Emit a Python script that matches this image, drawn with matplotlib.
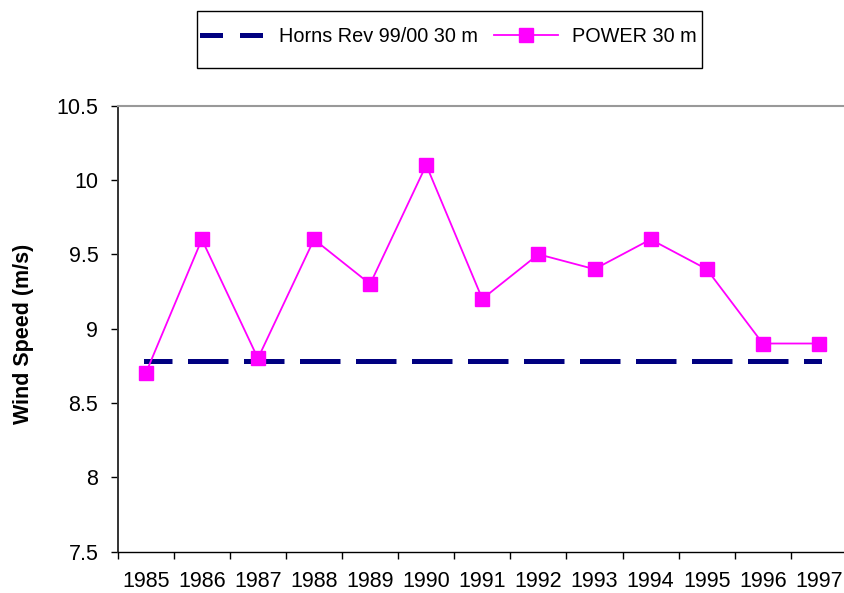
import numpy as np
import matplotlib
matplotlib.use("Agg")
import matplotlib.pyplot as plt
from matplotlib.lines import Line2D
from matplotlib.patches import Rectangle

plt.rcParams['font.family'] = ['Liberation Sans', 'DejaVu Sans']

# data
years = ["1985", "1986", "1987", "1988", "1989", "1990", "1991",
         "1992", "1993", "1994", "1995", "1996", "1997"]
power_30m = [8.7, 9.6, 8.8, 9.6, 9.3, 10.1, 9.2, 9.5, 9.4, 9.6, 9.4, 8.9, 8.9]
horns_rev_30m = 8.78

x = np.arange(len(years))
fs = 15.5
fs_leg = 14.3
W, H = 845, 593

fig = plt.figure(figsize=(8.45, 5.93), dpi=100)
ax = fig.add_axes([0.1393, 0.0696, 0.863, 0.7524])

# Horns Rev reference level
lw_dash = 3.6
ax.plot([x[0], x[-1]], [horns_rev_30m] * 2, color='#000080', lw=lw_dash,
        linestyle=(2.4, (7.1, 4.1)), dash_capstyle='projecting')

# POWER series
ax.plot(x, power_30m, color='#FF00FF', lw=1.3, marker='s', markersize=9.5,
        markerfacecolor='#FF00FF', markeredgecolor='#FF00FF')

ax.set_xlim(-0.5, len(years) - 0.5)
ax.set_ylim(7.5, 10.5)
ax.set_yticks([7.5, 8, 8.5, 9, 9.5, 10, 10.5])
ax.set_yticklabels(["7.5", "8", "8.5", "9", "9.5", "10", "10.5"])
ax.set_xticks(x)
ax.set_xticklabels(years)
ax.set_xticks(np.arange(-0.5, len(years)), minor=True)
ax.tick_params(axis='x', which='major', length=0, pad=14, labelsize=fs)
ax.tick_params(axis='x', which='minor', length=5, width=1, direction='out')
ax.tick_params(axis='y', length=5, width=1, direction='out', pad=9, labelsize=fs)

ax.spines['right'].set_visible(False)
ax.spines['top'].set_color('#999999')
ax.spines['top'].set_linewidth(1.5)
ax.spines['left'].set_color('#333333')
ax.spines['left'].set_linewidth(1.4)
ax.spines['bottom'].set_color('black')
ax.spines['bottom'].set_linewidth(1.0)

fig.text(24 / W, 1 - 333.4 / H, "Wind Speed (m/s)", rotation=90,
         fontsize=fs, fontweight='bold', ha='center', va='center')

# legend (box drawn separately, Excel-style)
h1 = Line2D([], [], color='#000080', lw=lw_dash, linestyle=(0, (3.6, 4.4)),
            dash_capstyle='projecting')
h2 = Line2D([], [], color='#FF00FF', lw=1.3, marker='s', markersize=9.5,
            markerfacecolor='#FF00FF', markeredgecolor='#FF00FF')
leg = fig.legend([h1, h2], ["Horns Rev 99/00 30 m", "POWER 30 m"], ncol=2,
                 loc='center', bbox_to_anchor=(449 / W, 1 - 36.5 / H),
                 fontsize=fs_leg, frameon=False, handlelength=3.2,
                 handletextpad=0.69, columnspacing=0.84, borderpad=0.4,
                 borderaxespad=0)
fig.add_artist(Rectangle((197.3 / W, 1 - 68.3 / H), (701.7 - 197.3) / W,
                         (68.3 - 10.7) / H, transform=fig.transFigure,
                         facecolor='none', edgecolor='black', lw=1.0))

fig.savefig("out.png", dpi=100)
